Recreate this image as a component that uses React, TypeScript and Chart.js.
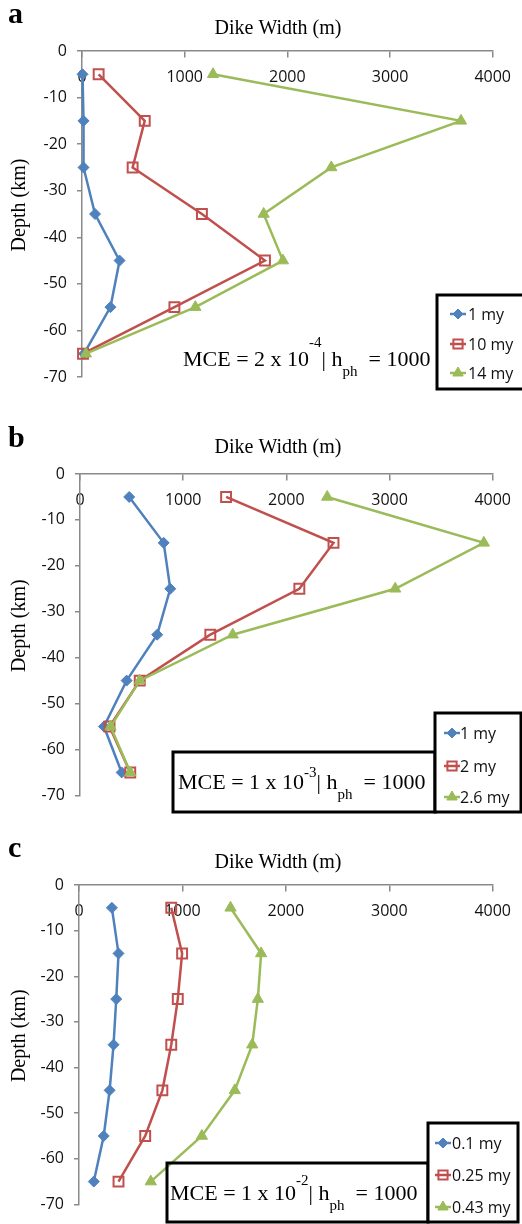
import React, { useEffect, useRef } from 'react';
import { Chart, registerables } from 'chart.js';
import { drawPoint } from 'chart.js/helpers';

Chart.register(...registerables);
Chart.defaults.font.family = '"Open Sans", sans-serif';

// ---------------- data ----------------
const depths = [-5, -15, -25, -35, -45, -55, -65];
const xTickValues = [0, 1000, 2000, 3000, 4000];
const yTickValues = [0, -10, -20, -30, -40, -50, -60, -70];

const aLabels = ['1 my', '10 my', '14 my'];
const a1 = [5, 15, 15, 127, 366, 277, 20];
const a2 = [162, 611, 493, 1168, 1782, 900, 10];
const a3 = [1276, 3691, 2428, 1769, 1957, 1104, 38];

const bLabels = ['1 my', '2 my', '2.6 my'];
const b1 = [477, 811, 875, 748, 452, 232, 404];
const b2 = [1416, 2457, 2126, 1263, 579, 286, 487];
const b3 = [2396, 3914, 3055, 1480, 579, 296, 487];

const cLabels = ['0.1 my', '0.25 my', '0.43 my'];
const c1 = [318, 382, 360, 334, 296, 239, 143];
const c2 = [892, 997, 955, 892, 806, 640, 382];
const c3 = [1465, 1761, 1729, 1675, 1506, 1188, 694];

const titleText = 'Dike Width (m)';
const yTitleText = 'Depth (km)';

// ---------------- styles ----------------
const colors = ['#4F81BD', '#C0504D', '#9BBB59'];
const fills = ['#4F81BD', 'rgba(0,0,0,0)', '#9BBB59'];
const pStyles = ['rectRot', 'rect', 'triangle'];
const pRadius = [5.5, 7, 6.5];
const pBorder = [1, 2, 1];
const axisColor = '#8a8a8a';

type Box = [number, number, number, number];
type PanelDef = {
  letter: string;
  top: number;
  height: number;
  area: { left: number; top: number; right: number; bottom: number };
  labels: string[];
  series: number[][];
  letterBaseline: number;
  titleBaseline: number;
  mce: { coef: string; exp: string; x: number; base: number; supRaise: number; box: Box | null };
  legend: { box: Box; markerX: number; textX: number; rows: number[] };
};

const panels: PanelDef[] = [
  {
    letter: 'a', top: 0, height: 400,
    area: { left: 82, top: 51, right: 502, bottom: 377 },
    labels: aLabels, series: [a1, a2, a3],
    letterBaseline: 23, titleBaseline: 34,
    mce: { coef: '2', exp: '-4', x: 183, base: 366, supRaise: 19, box: null },
    legend: { box: [437, 295, 527, 389], markerX: 458, textX: 468, rows: [314, 344, 373] },
  },
  {
    letter: 'b', top: 400, height: 415,
    area: { left: 80, top: 74, right: 499, bottom: 399 },
    labels: bLabels, series: [b1, b2, b3],
    letterBaseline: 47, titleBaseline: 53,
    mce: { coef: '1', exp: '-3', x: 178, base: 389, supRaise: 12, box: [173, 352, 435, 412] },
    legend: { box: [435, 313, 521, 412], markerX: 452, textX: 460, rows: [333, 366, 397] },
  },
  {
    letter: 'c', top: 815, height: 409,
    area: { left: 79, top: 70, right: 498, bottom: 395 },
    labels: cLabels, series: [c1, c2, c3],
    letterBaseline: 42, titleBaseline: 53,
    mce: { coef: '1', exp: '-2', x: 170, base: 385, supRaise: 15, box: [167, 348, 428, 407] },
    legend: { box: [428, 308, 518, 407], markerX: 443, textX: 452, rows: [328, 360, 392] },
  },
];

function makeDecor(p: PanelDef) {
  return {
    id: 'decor' + p.letter,
    afterDraw(chart: any) {
      const ctx = chart.ctx as CanvasRenderingContext2D;
      ctx.save();
      ctx.fillStyle = '#000';
      // panel letter
      ctx.font = 'bold 30px "Liberation Serif"';
      ctx.textAlign = 'left';
      ctx.textBaseline = 'alphabetic';
      ctx.fillText(p.letter, 8, p.letterBaseline);
      // top title
      ctx.font = '20px "Liberation Serif"';
      ctx.textAlign = 'center';
      ctx.fillText(titleText, 278, p.titleBaseline);
      // y title
      const ca = chart.chartArea;
      ctx.save();
      ctx.translate(25, (ca.top + ca.bottom) / 2 - 9);
      ctx.rotate(-Math.PI / 2);
      ctx.fillText(yTitleText, 0, 0);
      ctx.restore();

      // MCE box
      ctx.strokeStyle = '#000';
      ctx.lineWidth = 3;
      if (p.mce.box) {
        const [l, t, r, b] = p.mce.box;
        ctx.strokeRect(l, t, r - l, b - t);
      }
      // MCE text
      ctx.textAlign = 'left';
      ctx.textBaseline = 'alphabetic';
      let x = p.mce.x;
      const base = p.mce.base;
      const main = '22px "Liberation Serif"';
      const small = '15px "Liberation Serif"';
      const put = (s: string, font: string, y: number) => {
        ctx.font = font;
        ctx.fillText(s, x, y);
        x += ctx.measureText(s).width;
      };
      put('MCE = ' + p.mce.coef + ' x 10', main, base);
      put(p.mce.exp, small, base - p.mce.supRaise);
      put('| h', main, base);
      put('ph', small, base + 10);
      put('  = 1000', main, base);

      // legend
      const [l, t, r, b] = p.legend.box;
      ctx.fillStyle = '#fff';
      ctx.fillRect(l, t, r - l, b - t);
      ctx.strokeRect(l, t, r - l, b - t);
      ctx.font = '16px "Open Sans"';
      ctx.textBaseline = 'middle';
      p.labels.forEach((lab, i) => {
        const y = p.legend.rows[i];
        const mx = p.legend.markerX;
        ctx.strokeStyle = colors[i];
        ctx.lineWidth = 2.5;
        ctx.beginPath();
        ctx.moveTo(mx - 8, y);
        ctx.lineTo(mx + 8, y);
        ctx.stroke();
        ctx.fillStyle = fills[i];
        ctx.strokeStyle = colors[i];
        ctx.lineWidth = pBorder[i];
        drawPoint(ctx, { pointStyle: pStyles[i], radius: pRadius[i] - 0.5, borderWidth: pBorder[i], rotation: 0 } as any, mx, y);
        ctx.fillStyle = '#111';
        ctx.fillText(lab, p.legend.textX, y + 1);
      });
      ctx.restore();
    },
  };
}

function Panel({ p }: { p: PanelDef }) {
  const ref = useRef<HTMLCanvasElement | null>(null);
  useEffect(() => {
    if (!ref.current) return;
    const a = p.area;
    const chart = new Chart(ref.current, {
      type: 'line',
      data: {
        datasets: p.series.map((s, i) => ({
          label: p.labels[i],
          data: depths.map((d, j) => ({ x: s[j], y: d })),
          borderColor: colors[i],
          backgroundColor: fills[i],
          pointBackgroundColor: fills[i],
          pointBorderColor: colors[i],
          pointStyle: pStyles[i],
          pointRadius: pRadius[i],
          pointBorderWidth: pBorder[i],
          borderWidth: 2.5,
          tension: 0,
          fill: false,
          clip: false as any,
          order: 3 - i,
        })),
      },
      options: {
        animation: false,
        responsive: false,
        maintainAspectRatio: false,
        events: [],
        layout: {
          padding: { top: a.top, bottom: p.height - a.bottom, right: 522 - a.right, left: 0 },
        },
        plugins: {
          legend: { display: false },
          title: { display: false },
          tooltip: { enabled: false },
        },
        scales: {
          x: {
            type: 'linear',
            position: { y: 0 } as any,
            min: 0,
            max: 4000,
            afterBuildTicks: (s: any) => { s.ticks = xTickValues.map((v) => ({ value: v })); },
            ticks: {
              font: { family: '"Open Sans"', size: 16 },
              color: '#111',
              padding: 11,
              maxRotation: 0,
              autoSkip: false,
              callback: (v: any) => String(v),
            },
            grid: { drawOnChartArea: false, drawTicks: true, tickLength: 6, color: axisColor, lineWidth: 1.5 },
            border: { display: true, color: axisColor, width: 1.5 },
          },
          y: {
            type: 'linear',
            position: 'left',
            min: -70,
            max: 0,
            afterBuildTicks: (s: any) => { s.ticks = yTickValues.map((v) => ({ value: v })); },
            afterFit: (s: any) => { s.width = a.left; },
            ticks: {
              font: { family: '"Open Sans"', size: 16 },
              color: '#111',
              padding: 10,
              autoSkip: false,
              callback: (v: any) => String(v),
            },
            grid: { drawOnChartArea: false, drawTicks: true, tickLength: 5, color: axisColor, lineWidth: 1.5 },
            border: { display: true, color: axisColor, width: 1.5 },
          },
        },
      },
      plugins: [makeDecor(p)],
    } as any);
    return () => chart.destroy();
  }, [p]);
  return (
    <canvas
      ref={ref}
      width={522}
      height={p.height}
      style={{ position: 'absolute', left: 0, top: p.top, width: 522, height: p.height, display: 'block' }}
    />
  );
}

export default function App() {
  return (
    <div style={{ position: 'absolute', left: 0, top: 0, width: 522, height: 1224, background: '#fff', overflow: 'hidden' }}>
      {panels.map((p) => (
        <Panel key={p.letter} p={p} />
      ))}
    </div>
  );
}
